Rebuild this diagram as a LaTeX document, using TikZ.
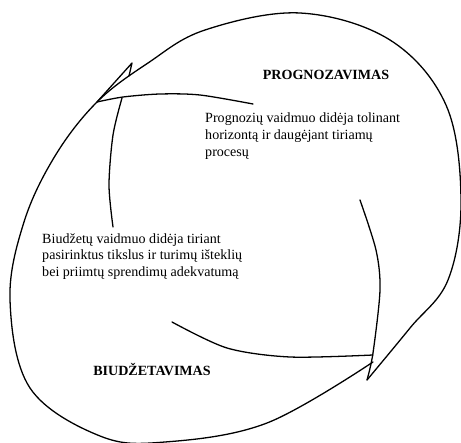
\documentclass[tikz,border=0pt]{standalone}
\usepackage{fontspec}
\setmainfont{Liberation Serif}
\usetikzlibrary{positioning}
\definecolor{ink}{HTML}{000000}
\tikzset{
  every node/.style={font=\rmfamily, text=ink},
  ttl/.style ={font=\rmfamily\bfseries\fontsize{12}{14}\selectfont, inner sep=0pt},
  txt/.style ={font=\rmfamily\fontsize{12}{14.1}\selectfont, inner sep=0pt, align=left},
  curv/.style={draw=ink, line width=1.1pt, line join=round, line cap=round},
}

\begin{document}
\begin{tikzpicture}[x=0.3mm, y=-0.3mm]
\useasboundingbox (0,0) rectangle (461,443);

% ---------------- big outer loop (both arrows) ---------------------------------
\draw[curv] plot[smooth, tension=0.6] coordinates {
  (367,380) (410,328) (448,280) (461,200) (446,105) (390,40) (300,13)
  (205,30) (148,63) (97,102) (55,156) (24,222) (10,300) (30,388)
  (100,436) (165,442) (267,423) (373,362)};

% top arrow head: barb
\draw[curv] (129,76) -- (132,63) -- (97,102);

% ---------------- inner edges --------------------------------------------------
\draw[curv] plot[smooth] coordinates {(97,102) (123,97) (160,94) (200,95) (253,104)};
\draw[curv] plot[smooth] coordinates {(122,98) (113,135) (109,185) (113,227)};
\draw[curv] plot[smooth] coordinates {(360,200) (376,250) (380,290) (373,353) (367,380)};
\draw[curv] plot[smooth] coordinates {(172,322) (227,348) (290,357) (373,355)};

% ---------------- labels -------------------------------------------------------
\node[ttl] (prog) at (326,75) {PROGNOZAVIMAS};
\node[txt, anchor=north west] (progtxt) at (205,113)
  {Prognozių vaidmuo didėja tolinant\\horizontą ir daugėjant tiriamų\\procesų};

\node[txt, anchor=north west] (biudtxt) at (42,233)
  {Biudžetų vaidmuo didėja tiriant\\pasirinktus tikslus ir turimų išteklių\\bei priimtų sprendimų adekvatumą};
\node[ttl] (biud) at (152,370) {BIUDŽETAVIMAS};

\end{tikzpicture}
\end{document}
